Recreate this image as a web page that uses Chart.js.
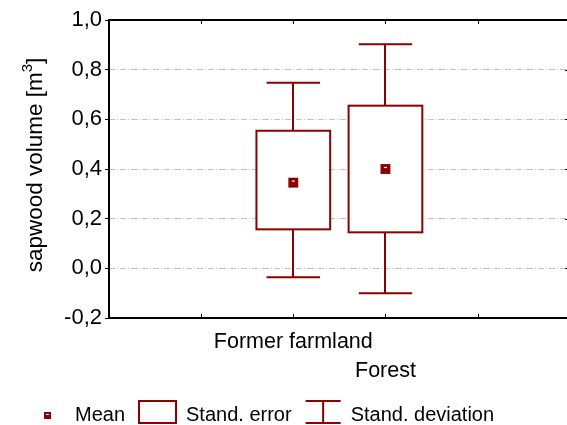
<!DOCTYPE html>
<html>
<head>
<meta charset="utf-8">
<script src="https://cdn.jsdelivr.net/npm/chart.js@4"></script>
<style>
  html, body { margin: 0; padding: 0; overflow: hidden; background: #fff; }
  .ChartContainer { position: relative; width: 567px; height: 425px; }
</style>
</head>
<body>
<div class="ChartContainer"><canvas id="chart"></canvas></div>
<script>
// categories and their positions on the x axis
const categories = ['Former farmland', 'Forest'];
const positions = [2, 3];
const xTicks = [1, 2, 3, 4];

// statistics
const means = [0.345, 0.400];
const seLow = [0.157, 0.145];
const seHigh = [0.554, 0.655];
const sdLow = [-0.036, -0.100];
const sdHigh = [0.747, 0.902];

const yMin = -0.2;
const yMax = 1.0;
const yStep = 0.2;

// the x axis runs 0..5, the right edge falls just outside the picture
const xMin = 0;
const xMax = 4.97;

const RED = '#8b0000';
const FONT = '"Liberation Sans", Arial, sans-serif';

const boxPlugin = {
    id: 'boxPlugin',
    beforeDatasetsDraw(chart) {
        const { ctx, scales: { x, y } } = chart;
        ctx.save();
        ctx.strokeStyle = RED;
        ctx.lineWidth = 2;
        positions.forEach((p, i) => {
            const l = x.getPixelForValue(p - 0.4);
            const r = x.getPixelForValue(p + 0.4);
            const cx = Math.round(x.getPixelForValue(p));
            const t = y.getPixelForValue(seHigh[i]);
            const b = y.getPixelForValue(seLow[i]);
            const capL = x.getPixelForValue(p - 0.29);
            const capR = x.getPixelForValue(p + 0.29);
            const top = y.getPixelForValue(sdHigh[i]);
            const bot = y.getPixelForValue(sdLow[i]);
            // whiskers
            ctx.beginPath();
            ctx.moveTo(cx, t); ctx.lineTo(cx, top);
            ctx.moveTo(capL, top); ctx.lineTo(capR, top);
            ctx.moveTo(cx, b); ctx.lineTo(cx, bot);
            ctx.moveTo(capL, bot); ctx.lineTo(capR, bot);
            ctx.stroke();
            // standard error box
            ctx.fillStyle = '#fff';
            ctx.fillRect(l, t, r - l, b - t);
            ctx.strokeRect(l, t, r - l, b - t);
        });
        ctx.restore();
    },
    afterDatasetsDraw(chart) {
        const { ctx, chartArea: a, scales: { x, y } } = chart;
        ctx.save();

        // little white dash on the mean markers
        const meta = chart.getDatasetMeta(0);
        ctx.strokeStyle = '#fff';
        ctx.lineWidth = 1.2;
        meta.data.forEach(pt => {
            ctx.beginPath();
            ctx.moveTo(pt.x - 1.5, pt.y - 1.5);
            ctx.lineTo(pt.x + 1.5, pt.y - 1.5);
            ctx.stroke();
        });

        // frame (right side is off the picture)
        ctx.strokeStyle = '#000';
        ctx.lineWidth = 2;
        ctx.beginPath();
        ctx.moveTo(a.right, a.top);
        ctx.lineTo(a.left, a.top);
        ctx.lineTo(a.left, a.bottom);
        ctx.lineTo(a.right, a.bottom);
        ctx.stroke();

        // inner tick marks on top and bottom, right axis ticks
        ctx.lineWidth = 1;
        ctx.beginPath();
        xTicks.forEach(v => {
            const px = Math.round(x.getPixelForValue(v)) + 0.5;
            ctx.moveTo(px, a.top); ctx.lineTo(px, a.top + 4);
            ctx.moveTo(px, a.bottom); ctx.lineTo(px, a.bottom - 4);
        });
        y.ticks.forEach(t => {
            const py = Math.round(y.getPixelForValue(t.value)) + 0.5;
            ctx.moveTo(a.right - 2, py); ctx.lineTo(a.right, py);
        });
        ctx.stroke();

        // y axis title with superscript
        ctx.fillStyle = '#000';
        ctx.translate(42, 165);
        ctx.rotate(-Math.PI / 2);
        ctx.textBaseline = 'alphabetic';
        const main = 'sapwood volume [m';
        const sup = '3';
        const end = ']';
        ctx.font = '22.5px ' + FONT;
        const w1 = ctx.measureText(main).width;
        const w3 = ctx.measureText(end).width;
        ctx.font = '15px ' + FONT;
        const w2 = ctx.measureText(sup).width;
        let tx = -(w1 + w2 + w3) / 2;
        ctx.font = '22.5px ' + FONT;
        ctx.fillText(main, tx, 0);
        ctx.font = '15px ' + FONT;
        ctx.fillText(sup, tx + w1, -10);
        ctx.font = '22.5px ' + FONT;
        ctx.fillText(end, tx + w1 + w2, 0);
        ctx.setTransform(1, 0, 0, 1, 0, 0);

        // legend
        const base = 421;
        const iconTop = 401, iconBot = 423;
        ctx.font = '20px ' + FONT;
        ctx.textBaseline = 'alphabetic';
        let cx = 44;
        ctx.fillStyle = RED;
        ctx.fillRect(cx, 412, 7, 7);
        ctx.strokeStyle = '#fff';
        ctx.lineWidth = 1;
        ctx.beginPath(); ctx.moveTo(cx + 2, 414.5); ctx.lineTo(cx + 5, 414.5); ctx.stroke();
        cx += 31;
        ctx.fillStyle = '#000';
        ctx.fillText('Mean', cx, base);
        cx += ctx.measureText('Mean').width + 14;
        ctx.strokeStyle = RED;
        ctx.lineWidth = 2;
        ctx.strokeRect(cx, iconTop, 37, iconBot - iconTop);
        cx += 47;
        ctx.fillText('Stand. error', cx, base);
        cx += ctx.measureText('Stand. error').width + 14;
        ctx.beginPath();
        ctx.moveTo(cx, iconTop); ctx.lineTo(cx + 35, iconTop);
        ctx.moveTo(cx + 17.5, iconTop); ctx.lineTo(cx + 17.5, iconBot);
        ctx.moveTo(cx, iconBot); ctx.lineTo(cx + 35, iconBot);
        ctx.stroke();
        cx += 45;
        ctx.fillText('Stand. deviation', cx, base);

        ctx.restore();
    }
};

new Chart(document.getElementById('chart'), {
    type: 'scatter',
    data: {
        datasets: [{
            label: 'Mean',
            data: positions.map((p, i) => ({ x: p, y: means[i] })),
            pointStyle: 'rect',
            pointRadius: 7,
            pointHoverRadius: 7,
            backgroundColor: RED,
            borderColor: RED,
            borderWidth: 0
        }]
    },
    options: {
        responsive: true,
        maintainAspectRatio: false,
        animation: false,
        layout: { autoPadding: false, padding: { top: 20, left: 0, right: 0, bottom: 0 } },
        plugins: {
            legend: { display: false },
            tooltip: { enabled: false }
        },
        scales: {
            x: {
                type: 'linear',
                min: xMin,
                max: xMax,
                afterBuildTicks: s => { s.ticks = xTicks.map(v => ({ value: v })); },
                afterFit: s => {
                    s.height = 107;
                    s.paddingLeft = 0;
                    s.paddingRight = 0;
                },
                grid: { display: false, drawTicks: false },
                border: { display: false },
                ticks: {
                    autoSkip: false,
                    maxRotation: 0,
                    padding: 10,
                    color: '#000',
                    font: { family: FONT, size: 21.5, lineHeight: 1.33 },
                    callback: v => {
                        const i = positions.indexOf(v);
                        if (i < 0) return '';
                        return i % 2 === 0 ? categories[i] : ['', categories[i]];
                    }
                }
            },
            y: {
                min: yMin,
                max: yMax,
                afterFit: s => { s.width = 109; },
                grid: {
                    color: '#c4c4c4',
                    lineWidth: 1,
                    tickColor: '#000',
                    tickLength: 4,
                    tickBorderDash: []
                },
                border: { display: false, dash: [6, 2, 1, 2] },
                ticks: {
                    stepSize: yStep,
                    padding: 3,
                    color: '#000',
                    font: { family: FONT, size: 22 },
                    callback: v => (Math.abs(v) < 1e-9 ? 0 : v).toFixed(1).replace('.', ',')
                }
            }
        }
    },
    plugins: [boxPlugin]
});
</script>
</body>
</html>
